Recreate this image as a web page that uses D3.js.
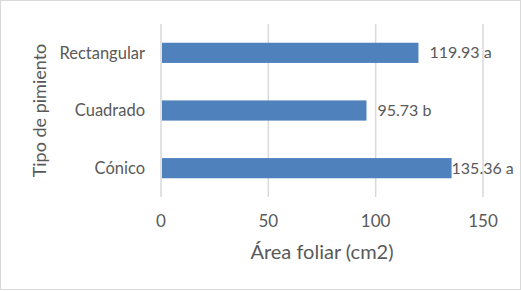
<!DOCTYPE html>
<html>
<head>
<meta charset="utf-8">
<script src="https://cdn.jsdelivr.net/npm/d3@7"></script>
<style>
  body { margin: 0; background: #fff; }
  text { font-family: Lato, "Open Sans", sans-serif; fill: #595959; }
</style>
</head>
<body>
<div class="chart"></div>
<script>
var categories = ['Rectangular', 'Cuadrado', 'Cónico'];
var values = [119.93, 95.73, 135.36];
var letters = ['a', 'b', 'a'];
var xTicks = [0, 50, 100, 150];

var width = 521, height = 291;
var margin = { top: 24, right: 38, bottom: 94, left: 161 };

var svg = d3.select('.chart')
    .append('svg')
    .attr('width', width)
    .attr('height', height);

// outer frame
svg.append('rect')
    .attr('x', 0.5).attr('y', 0.5)
    .attr('width', width - 1).attr('height', height - 2)
    .attr('fill', '#fff')
    .attr('stroke', '#d9d9d9');

var x = d3.scaleLinear()
    .domain([0, 150])
    .range([margin.left, width - margin.right]);

var y = d3.scaleBand()
    .domain(categories)
    .range([margin.top, height - margin.bottom])
    .paddingInner(0.65)
    .paddingOuter(0.325);

// gridlines
svg.append('g')
    .selectAll('line')
    .data(xTicks)
    .enter()
    .append('line')
    .attr('x1', d => x(d)).attr('x2', d => x(d))
    .attr('y1', margin.top).attr('y2', height - margin.bottom)
    .attr('stroke', '#d9d9d9')
    .attr('stroke-width', 1.5);

var data = categories.map((c, i) => ({ cat: c, val: values[i], letter: letters[i] }));

svg.append('g')
    .selectAll('rect')
    .data(data)
    .enter()
    .append('rect')
    .attr('x', x(0) + 1)
    .attr('y', d => y(d.cat))
    .attr('width', d => x(d.val) - x(0) - 1)
    .attr('height', y.bandwidth())
    .attr('fill', '#4f81bd');

// value labels
svg.append('g')
    .selectAll('text')
    .data(data)
    .enter()
    .append('text')
    .attr('x', d => d.val > 130 ? x(d.val) : x(d.val) + 11)
    .attr('y', d => y(d.cat) + y.bandwidth() / 2)
    .attr('dy', '0.35em')
    .style('font-size', '16px')
    .text(d => d3.format('.2f')(d.val) + ' ' + d.letter);

// category labels
svg.append('g')
    .selectAll('text')
    .data(categories)
    .enter()
    .append('text')
    .attr('x', margin.left - 16)
    .attr('y', d => y(d) + y.bandwidth() / 2)
    .attr('dy', '0.35em')
    .attr('text-anchor', 'end')
    .style('font-size', '16.5px')
    .text(d => d);

// x tick labels
svg.append('g')
    .selectAll('text')
    .data(xTicks)
    .enter()
    .append('text')
    .attr('x', d => x(d))
    .attr('y', 221)
    .attr('dy', '0.35em')
    .attr('text-anchor', 'middle')
    .style('font-size', '17px')
    .text(d => d);

// axis titles
svg.append('text')
    .attr('x', (margin.left + width - margin.right) / 2)
    .attr('y', 259)
    .attr('text-anchor', 'middle')
    .style('font-size', '20px')
    .text('Área foliar (cm2)');

svg.append('text')
    .attr('transform', 'translate(46,' + (margin.top + height - margin.bottom) / 2 + ') rotate(-90)')
    .attr('text-anchor', 'middle')
    .style('font-size', '18px')
    .text('Tipo de pimiento');
</script>
</body>
</html>
